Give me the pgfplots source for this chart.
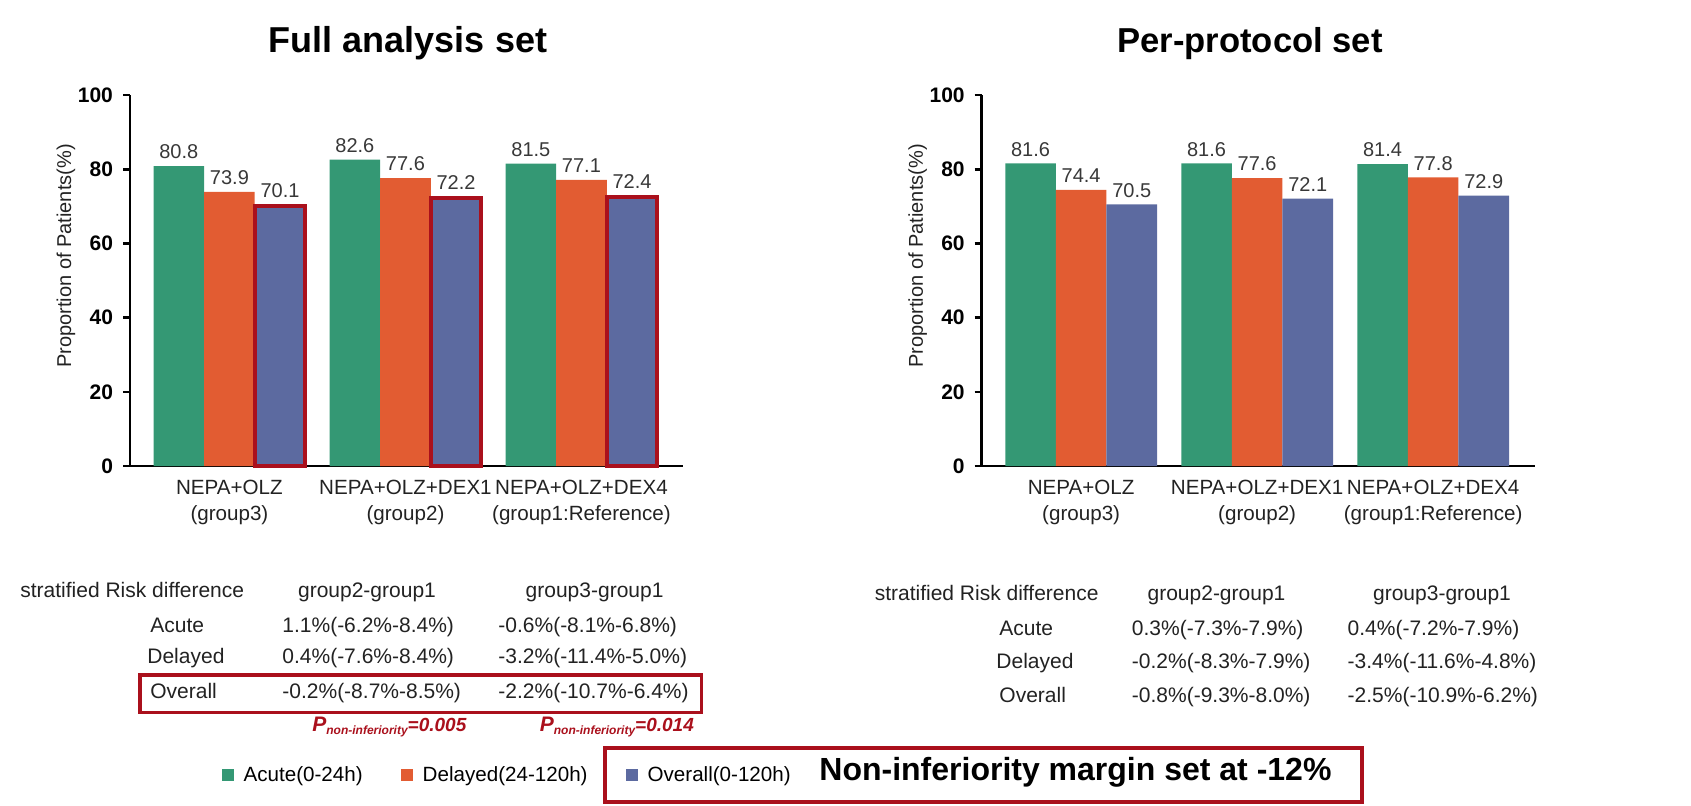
\documentclass[border=0pt]{standalone}
\usepackage{pgfplots}
\pgfplotsset{compat=1.18}
\usepackage{fontspec}
\setmainfont{Liberation Sans}
\definecolor{cgreen}{RGB}{52,152,116}
\definecolor{corange}{RGB}{226,92,50}
\definecolor{cblue}{RGB}{92,106,160}
\definecolor{cred}{RGB}{170,16,28}
\definecolor{ctext}{RGB}{34,34,34}
\newcommand{\tf}{\fontsize{10.5}{12.6}\selectfont}
\pgfplotsset{
  barchart/.style={
    scale only axis, width=276.5pt, height=185.5pt, anchor=south west,
    xmin=-0.565, xmax=2.577, ymin=0, ymax=100,
    axis x line=bottom, axis y line=left,
    axis line style={-, line width=1.3pt, black},
    tick align=outside, major tick length=3.5pt,
    ytick={0,20,40,60,80,100},
    ytick style={line width=1.3pt, black},
    xtick={0,1,2}, xtick style={draw=none},
    xticklabels={{NEPA+OLZ\\(group3)},{NEPA+OLZ+DEX1\\(group2)},{NEPA+OLZ+DEX4\\(group1:Reference)}},
    xticklabel style={align=center, font=\fontsize{10.3}{13}\selectfont, text=ctext},
    yticklabel style={font=\fontsize{10.5}{12}\selectfont\bfseries, xshift=-1.5pt},
    /pgf/number format/assume math mode=true,
    ybar=0pt, bar width=0.2875,
    nodes near coords,
    every node near coord/.append style={font=\fontsize{10}{12}\selectfont, text=black!78},
    clip=false,
  },
}
\begin{document}
\begin{tikzpicture}
\path[use as bounding box] (0,0) rectangle (845.5pt,-402.5pt);

% ---------------- Full analysis set ----------------
\begin{axis}[barchart, at={(65pt,-233pt)},
  legend style={at={(0.165,-0.833)}, anchor=west, draw=none, fill=none,
    legend columns=3, font=\fontsize{10.3}{12}\selectfont, inner sep=0pt,
    /tikz/every odd column/.append style={column sep=3pt},
    /tikz/every even column/.append style={column sep=17pt}},
  legend image code/.code={\path[#1,draw=none] (0pt,-3pt) rectangle (6pt,3pt);},
]
\addplot[fill=cgreen, draw=none] coordinates {(0,80.8) (1,82.6) (2,81.5)};
\addplot[fill=corange, draw=none] coordinates {(0,73.9) (1,77.6) (2,77.1)};
\addplot[fill=cblue, draw=cred, line width=2pt] coordinates {(0,70.1) (1,72.2) (2,72.4)};
\legend{Acute(0-24h), Delayed(24-120h), Overall(0-120h)}
\end{axis}

% ---------------- Per-protocol set ----------------
\begin{axis}[barchart, at={(490.85pt,-233pt)}]
\addplot[fill=cgreen, draw=none] coordinates {(0,81.6) (1,81.6) (2,81.4)};
\addplot[fill=corange, draw=none] coordinates {(0,74.4) (1,77.6) (2,77.8)};
\addplot[fill=cblue, draw=none] coordinates {(0,70.5) (1,72.1) (2,72.9)};
\end{axis}

% titles
\node[anchor=base, font=\fontsize{18}{20}\selectfont\bfseries] at (204pt,-26pt) {Full analysis set};
\node[anchor=base, font=\fontsize{17.3}{20}\selectfont\bfseries] at (625pt,-26pt) {Per-protocol set};

% y labels
\node[rotate=90, font=\fontsize{10}{12}\selectfont, text=ctext] at (33pt,-128pt) {Proportion of Patients(\%)};
\node[rotate=90, font=\fontsize{10}{12}\selectfont, text=ctext] at (458.85pt,-128pt) {Proportion of Patients(\%)};

% ---------------- left table ----------------
\begin{scope}[every node/.style={font=\tf, text=ctext, inner sep=0pt}]
\node[anchor=mid west] at (10pt,-296pt) {stratified Risk difference};
\node[anchor=mid] at (183.5pt,-296pt) {group2-group1};
\node[anchor=mid] at (297.3pt,-296pt) {group3-group1};
\node[anchor=mid west] at (75pt,-313.35pt) {Acute};
\node[anchor=mid west] at (73.5pt,-329pt) {Delayed};
\node[anchor=mid west] at (75pt,-346.5pt) {Overall};
\node[anchor=mid west] at (141pt,-313.35pt) {1.1\%(-6.2\%-8.4\%)};
\node[anchor=mid west] at (141pt,-329pt) {0.4\%(-7.6\%-8.4\%)};
\node[anchor=mid west] at (141pt,-346.5pt) {-0.2\%(-8.7\%-8.5\%)};
\node[anchor=mid west] at (249pt,-313.35pt) {-0.6\%(-8.1\%-6.8\%)};
\node[anchor=mid west] at (249pt,-329pt) {-3.2\%(-11.4\%-5.0\%)};
\node[anchor=mid west] at (249pt,-346.5pt) {-2.2\%(-10.7\%-6.4\%)};
% right table
\node[anchor=mid west] at (437.2pt,-297.5pt) {stratified Risk difference};
\node[anchor=mid] at (608.25pt,-297.5pt) {group2-group1};
\node[anchor=mid] at (721pt,-297.5pt) {group3-group1};
\node[anchor=mid west] at (499.5pt,-315pt) {Acute};
\node[anchor=mid west] at (498pt,-331.65pt) {Delayed};
\node[anchor=mid west] at (499.5pt,-348.35pt) {Overall};
\node[anchor=mid west] at (565.75pt,-315pt) {0.3\%(-7.3\%-7.9\%)};
\node[anchor=mid west] at (565.75pt,-331.65pt) {-0.2\%(-8.3\%-7.9\%)};
\node[anchor=mid west] at (565.75pt,-348.35pt) {-0.8\%(-9.3\%-8.0\%)};
\node[anchor=mid west] at (673.65pt,-315pt) {0.4\%(-7.2\%-7.9\%)};
\node[anchor=mid west] at (673.65pt,-331.65pt) {-3.4\%(-11.6\%-4.8\%)};
\node[anchor=mid west] at (673.65pt,-348.35pt) {-2.5\%(-10.9\%-6.2\%)};
\end{scope}

% red box around Overall row
\draw[cred, line width=1.7pt] (70pt,-337.5pt) rectangle (350.75pt,-356.35pt);

% p-values
\node[anchor=mid west, inner sep=0pt, text=cred] at (156pt,-363.3pt)
  {\bfseries\itshape\fontsize{10.5}{12}\selectfont P{\fontsize{6}{7}\selectfont\raisebox{-1.5pt}{non-inferiority}}{\fontsize{9.5}{12}\selectfont=0.005}};
\node[anchor=mid west, inner sep=0pt, text=cred] at (269.75pt,-363.3pt)
  {\bfseries\itshape\fontsize{10.5}{12}\selectfont P{\fontsize{6}{7}\selectfont\raisebox{-1.5pt}{non-inferiority}}{\fontsize{9.5}{12}\selectfont=0.014}};

% non-inferiority box
\draw[cred, line width=1.7pt] (302.5pt,-374pt) rectangle (681pt,-401pt);
\node[anchor=mid west, inner sep=0pt, font=\fontsize{16}{18}\selectfont\bfseries] at (409.5pt,-387.5pt) {Non-inferiority margin set at -12\%};
\end{tikzpicture}
\end{document}
